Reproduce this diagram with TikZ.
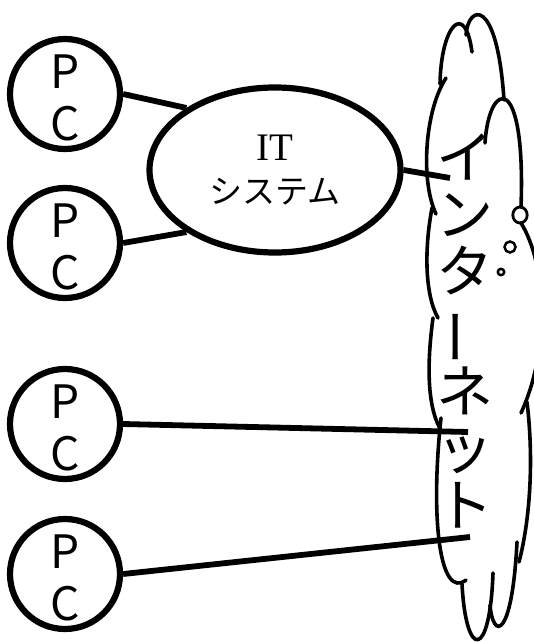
\documentclass[tikz,border=0pt]{standalone}
\usepackage{fontspec}
\usepackage{graphicx}
\setmainfont{Liberation Serif}
\newfontfamily\jpfont{Noto Sans CJK JP}
\usetikzlibrary{shapes.geometric}

\begin{document}
\begin{tikzpicture}[
    x=0.5pt, y=-0.5pt,
    pc/.style={circle, draw, line width=3.1pt, minimum size=55pt, inner sep=0pt, align=center, font=\jpfont\fontsize{23pt}{26pt}\selectfont},
    sys/.style={ellipse, draw, line width=3.1pt, minimum width=125.5pt, minimum height=82.5pt, inner sep=0pt, align=center, font=\fontsize{16.5pt}{21.5pt}\selectfont},
    vtext/.style={inner sep=0pt, align=center, font=\jpfont\fontsize{28.5pt}{28.5pt}\selectfont},
    link/.style={line width=2.9pt},
    puff/.style={line width=1.8pt, line cap=round}
]
    \useasboundingbox (0,0) rectangle (534,642);
    \clip (0,0) rectangle (534,642);

    % the cloud, lobe by lobe
    \draw[puff] (440,84) .. controls (441,25) and (465,0) .. (472,52);
    \draw[puff] (466,35) .. controls (468,5) and (497,-5) .. (504,100);
    \draw[puff] (485,143) .. controls (489,80) and (526,70) .. (521,207);
    \draw[puff] (521,223) .. controls (547,265) and (550,350) .. (521,413);
    \draw[puff] (527,402) .. controls (534,460) and (530,520) .. (519,562);
    \draw[puff] (490,605) .. controls (493,640) and (512,640) .. (517,542);
    \draw[puff] (462,584) .. controls (466,660) and (490,660) .. (493,573);
    \draw[puff] (446,78) .. controls (425,110) and (420,180) .. (436,214);
    \draw[puff] (432,208) .. controls (424,250) and (425,295) .. (438,318);
    \draw[puff] (433,318) .. controls (426,370) and (428,410) .. (442,432);
    \draw[puff] (441,418) .. controls (430,520) and (440,600) .. (466,580);
    % bubbles
    \draw[line width=1.4pt] (520,215) ellipse [x radius=3.6pt, y radius=4pt];
    \draw[line width=1.25pt] (510,247) circle [radius=2.75pt];
    \draw[line width=1.25pt] (501,272) circle [radius=1.6pt];

    \node[pc] (pc1) at (65,94) {\rule{0pt}{21pt}P\\C};
    \node[pc] (pc2) at (65,243) {\rule{0pt}{21pt}P\\C};
    \node[pc] (pc3) at (65,424) {\rule{0pt}{21pt}P\\C};
    \node[pc] (pc4) at (65,574) {\rule{0pt}{21pt}P\\C};
    \node[sys] (it) at (275,170) {{\fontsize{19.5pt}{21.5pt}\selectfont IT}\\{\jpfont システム}};
    \node[vtext] (net) at (465,331) {イ\\ン\\タ\\\rotatebox[origin=c]{90}{ー}\\ネ\\ッ\\ト};

    \coordinate (in1) at (450,178);
    \coordinate (in2) at (468,432);
    \coordinate (in3) at (470,537);

    \draw[link] (pc1.east) -- (it.145);
    \draw[link] (pc2.east) -- (it.215);
    \draw[link] (it.east) -- (in1);
    \draw[link] (pc3.east) -- (in2);
    \draw[link] (pc4.east) -- (in3);
\end{tikzpicture}
\end{document}
